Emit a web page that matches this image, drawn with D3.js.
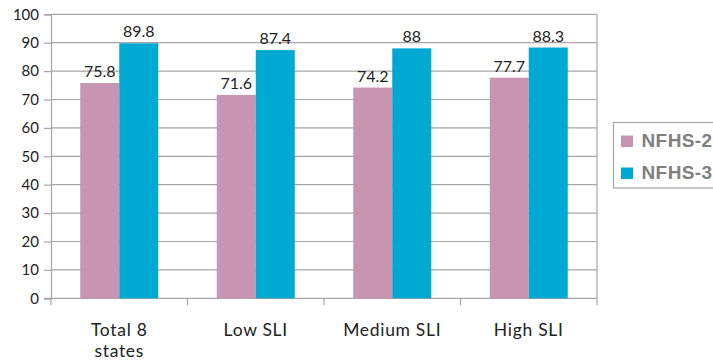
<!DOCTYPE html>
<html><head><meta charset="utf-8">
<script src="https://cdn.jsdelivr.net/npm/d3@7"></script>
<style>body{margin:0;background:#fff}svg{display:block}</style>
</head><body>
<script>
const categories = ["Total 8\nstates", "Low SLI", "Medium SLI", "High SLI"];
const seriesNames = ["NFHS-2", "NFHS-3"];
const nfhs2 = [75.8, 71.6, 74.2, 77.7];
const nfhs3 = [89.8, 87.4, 88, 88.3];
const yTicks = [0,10,20,30,40,50,60,70,80,90,100];
const colors = ["#C795B1", "#00A9D1"];

const W = 713, H = 360;
const svg = d3.select("body").append("svg").attr("width", W).attr("height", H);
const plot = {l: 51, r: 597, t: 14.3, b: 298.3};

const x = d3.scaleBand().domain(d3.range(categories.length)).range([plot.l, plot.r]);
const y = d3.scaleLinear().domain([0, 100]).range([plot.b, plot.t]);
const font = "Lato, 'Open Sans', sans-serif";

// gridlines
svg.append("g").selectAll("line").data(yTicks.filter(d => d > 0)).join("line")
  .attr("x1", plot.l).attr("x2", plot.r)
  .attr("y1", d => y(d)).attr("y2", d => y(d))
  .attr("stroke", "#A6A6A6").attr("stroke-width", 1.2);
// right border
svg.append("line").attr("x1", plot.r).attr("x2", plot.r).attr("y1", plot.t).attr("y2", plot.b)
  .attr("stroke", "#A6A6A6").attr("stroke-width", 1.2);

// y axis
const yAxis = d3.axisLeft(y).tickValues(yTicks).tickSize(7).tickPadding(5).tickFormat(d3.format("d"));
const ya = svg.append("g").attr("transform", `translate(${plot.l},0)`).call(yAxis);
ya.selectAll("path,line").attr("stroke", "#A6A6A6").attr("stroke-width", 1.2);
ya.selectAll("text").attr("font-family", font).attr("font-size", 15).attr("fill", "#222");

// x axis
const xAxis = d3.axisBottom(x).tickSize(0).tickFormat("");
const xa = svg.append("g").attr("transform", `translate(0,${plot.b})`).call(xAxis);
xa.select("path").attr("stroke", "#A6A6A6").attr("stroke-width", 1.2).attr("d", `M${plot.l - 7},0H${plot.r}`);
// category boundary ticks
svg.append("g").selectAll("line").data(d3.range(categories.length + 1)).join("line")
  .attr("x1", d => plot.l + d * x.step()).attr("x2", d => plot.l + d * x.step())
  .attr("y1", plot.b).attr("y2", plot.b + 7)
  .attr("stroke", "#A6A6A6").attr("stroke-width", 1.2);

// category labels (one text element per line)
const labelLines = [];
categories.forEach((c, i) => c.split("\n").forEach((l, j) => labelLines.push({i, j, l})));
svg.append("g").selectAll("text").data(labelLines).join("text")
  .attr("x", d => x(d.i) + x.bandwidth() / 2)
  .attr("y", d => 336 + d.j * 20.5)
  .attr("text-anchor", "middle").attr("font-family", font).attr("font-size", 17.5).attr("fill", "#222")
  .attr("letter-spacing", 0.7)
  .text(d => d.l);

// bars
const step = x.step();
const barW = step / 3.5;
const series = [nfhs2, nfhs3];
series.forEach((vals, si) => {
  const g = svg.append("g");
  g.selectAll("rect").data(vals).join("rect")
    .attr("x", (d, i) => x(i) + step / 2 - barW + si * barW)
    .attr("width", barW)
    .attr("y", d => y(d))
    .attr("height", d => y(0) - y(d))
    .attr("fill", colors[si]);
  g.selectAll("text").data(vals).join("text")
    .attr("x", (d, i) => x(i) + step / 2 - barW + si * barW + barW / 2)
    .attr("y", d => y(d) - 6)
    .attr("text-anchor", "middle").attr("font-family", font).attr("font-size", 16).attr("fill", "#222")
    .text(d => d);
});

// legend
const lg = svg.append("g");
lg.append("rect").attr("x", 613.5).attr("y", 122.5).attr("width", 120).attr("height", 65.5)
  .attr("fill", "#fff").attr("stroke", "#A6A6A6").attr("stroke-width", 1.2);
seriesNames.forEach((n, i) => {
  lg.append("rect").attr("x", 621).attr("y", 135.5 + i * 32).attr("width", 12).attr("height", 11.5).attr("fill", colors[i]);
  lg.append("text").attr("x", 641.5).attr("y", 147 + i * 32)
    .attr("font-family", "'Liberation Sans', Arial, sans-serif").attr("font-weight", "bold")
    .attr("font-size", 19).attr("letter-spacing", 0.4).attr("fill", "#808080").text(n);
});
</script>
</body></html>
